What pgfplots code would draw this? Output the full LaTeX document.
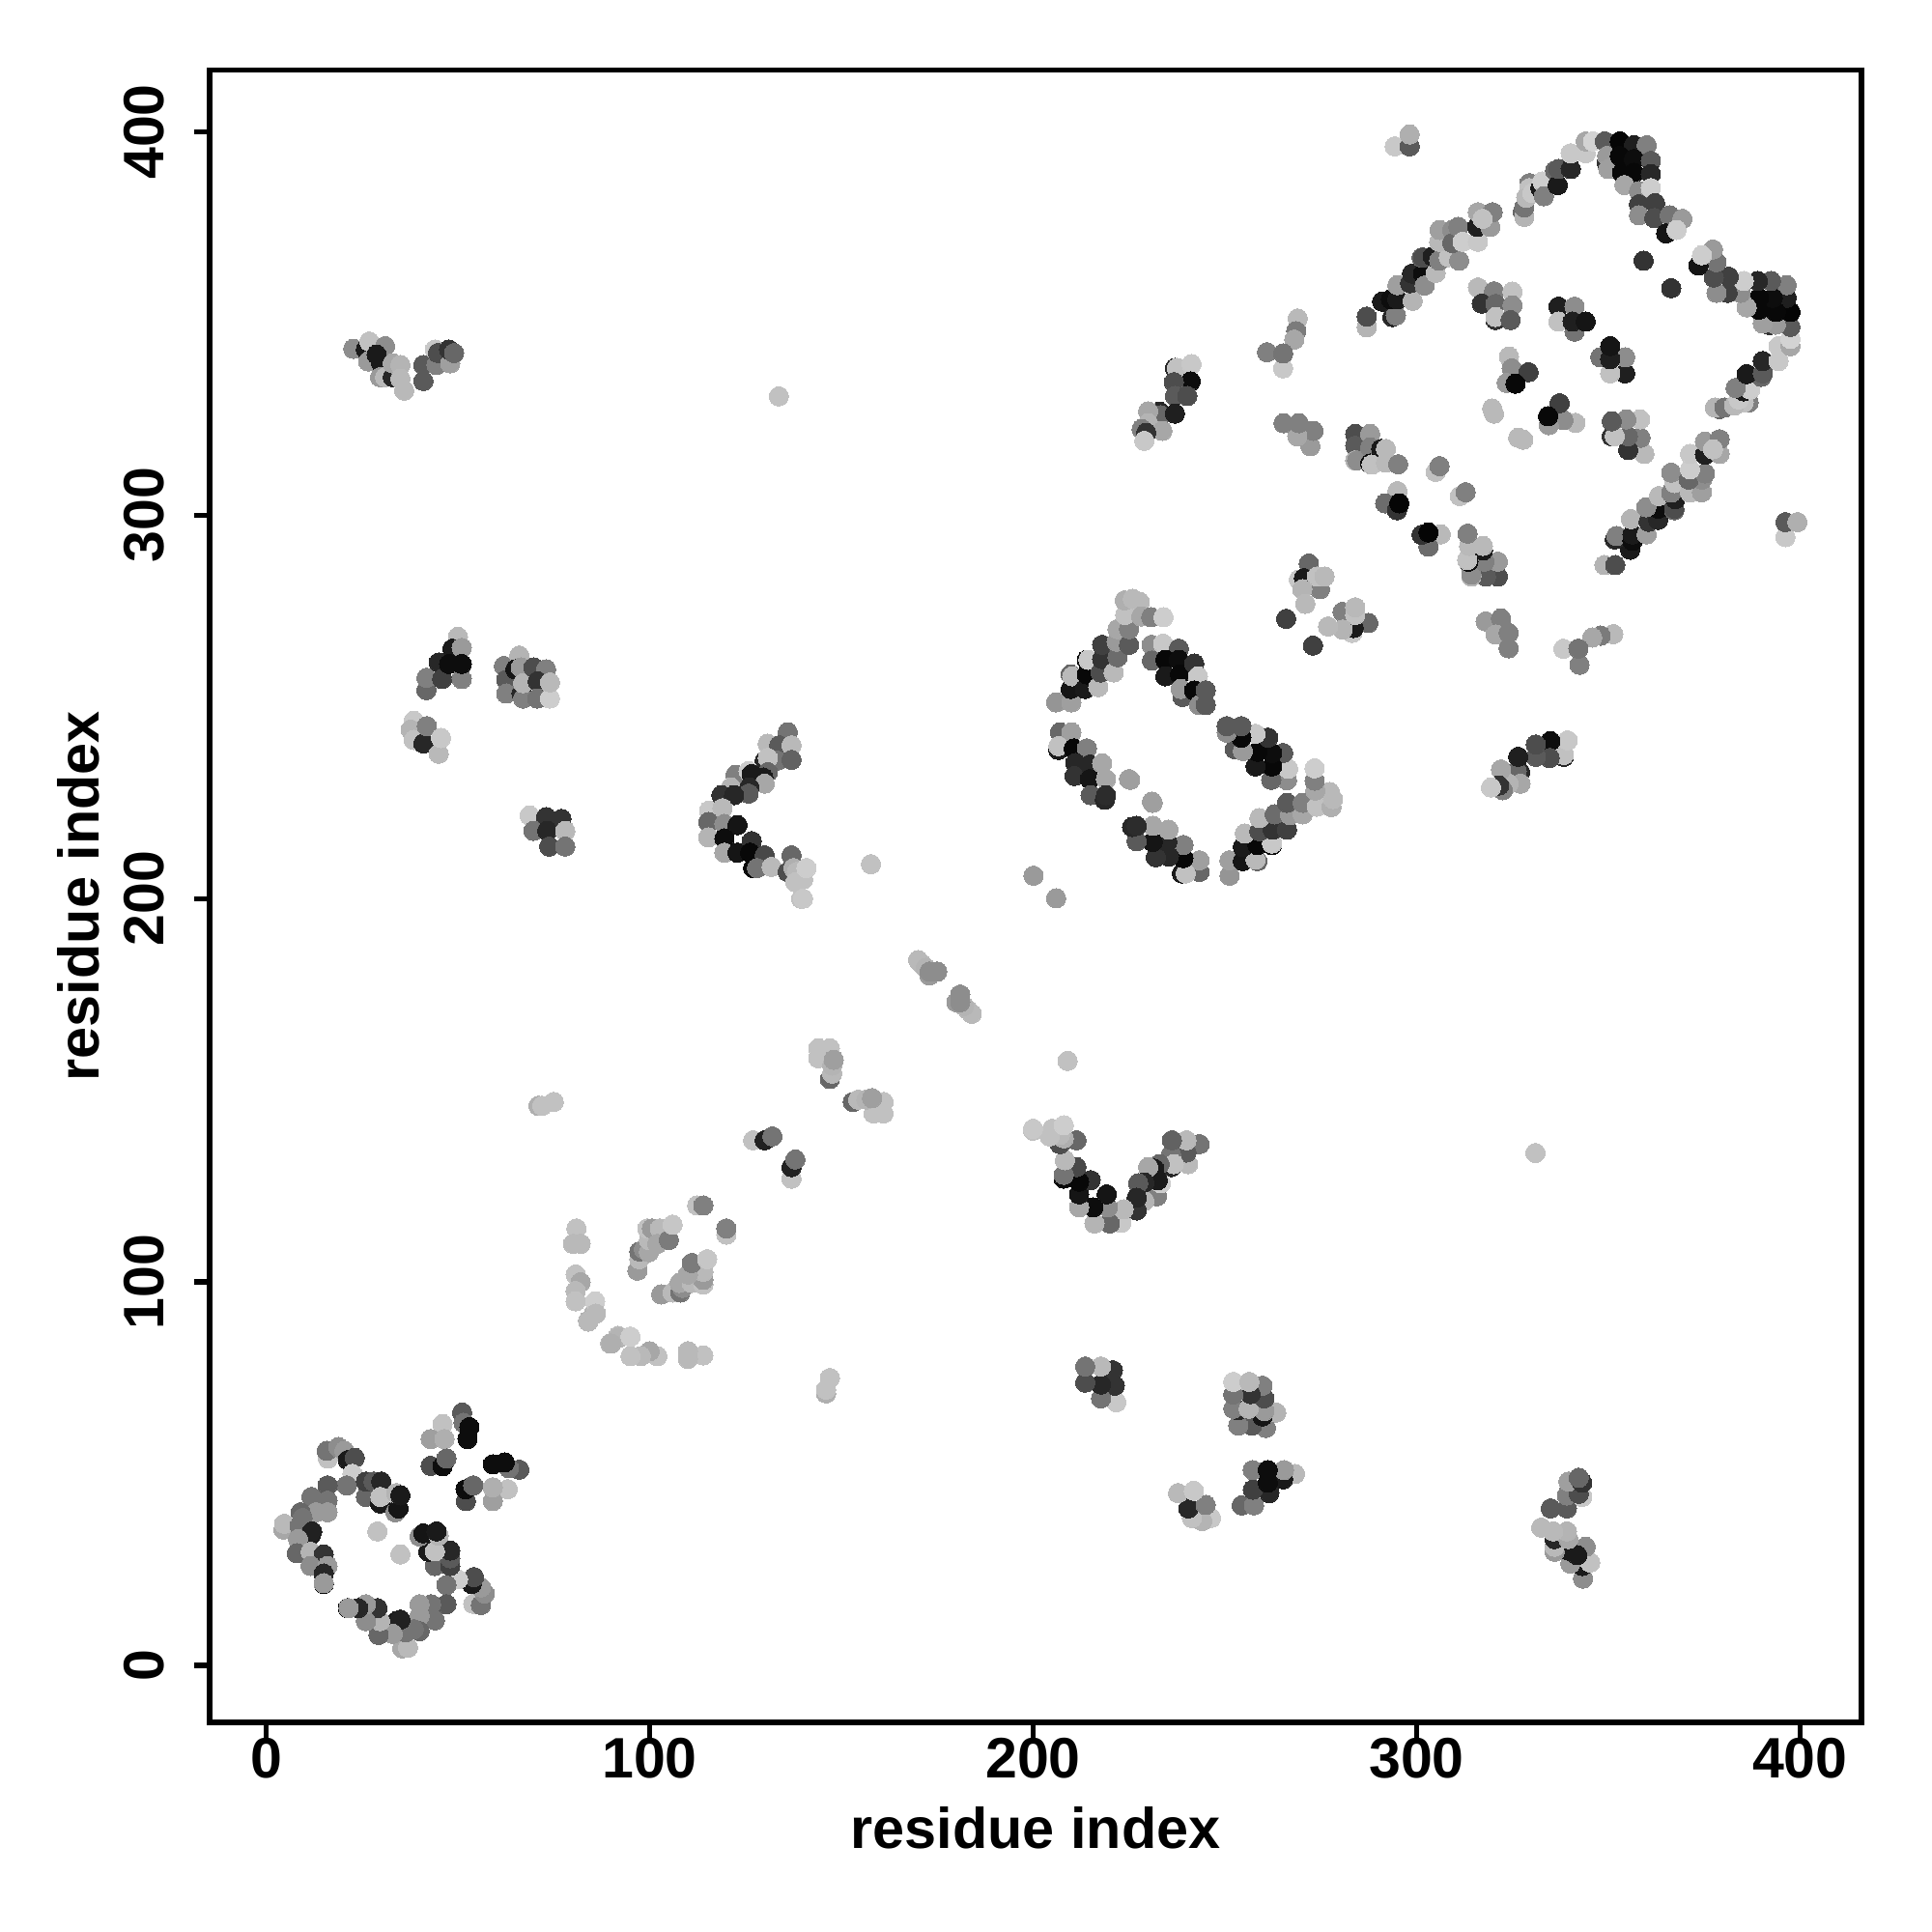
\documentclass[border=0pt]{standalone}
\usepackage{fontspec}
\setmainfont{Liberation Sans}
\usepackage{pgfplots}
\usepackage{pgfplotstable}
\pgfplotsset{compat=1.18}
\pgfplotstableread{
a b g
51.1 66.0 .35
51.5 63.3 .45
46.0 63.0 .75
42.9 59.1 .62
46.5 59.1 .68
53 62.2 .05
52.5 59.1 .05
42.9 52.1 .3
46 52 .05
47 54 .4
16.1 54 .75
15.8 56 .45
18.8 57 .55
20.4 56 .6
21.3 53.6 .1
23.1 54.2 .3
22.5 50 .8
21 47 .45
26 44 .4
26 48 .25
28 48 .35
30 48 .15
29.7 42.3 .1
29.8 44 .75
33.7 40 .55
34.5 41 .08
33.9 45 .7
35 44.4 .1
16 47 .35
11.8 44 .45
16 43 .45
13 40 .6
16 40 .6
9 40 .4
9.5 38.5 .45
4.5 35.5 .65
4.7 37 .72
8.7 36.4 .45
11.6 34 .1
12 35 .13
8.3 33 .6
8 29.3 .4
11.6 29.7 .7
15 29 .2
11.6 26 .55
16 26 .6
15 24 .15
15 21.3 .05
15 21.5 .6
29 35 .75
80.9 114 .75
80 110 .72
82 110 .72
80.7 102 .75
82 100 .65
80.7 97.7 .72
80.7 95 .75
85.5 92 .7
85.8 95 .8
84 90 .68
89.7 84 .72
91.8 86 .72
96.8 103 .6
97.3 106 .72
97.3 108 .45
98.5 108.6 .55
99.8 107.8 .65
99.8 111 .72
99.4 114 .75
100.6 114 .6
102.7 114 .72
102 110 .65
105 111 .48
106 115 .77
112.4 120 .75
114 120 .5
127 137 .75
130 137 .13
132 138 .45
144 161 .75
147 161 .75
144 158.4 .75
147 153 .4
147.6 154.4 .72
147.6 156.5 .7
148 158 .62
71 146 .68
72 146 .75
75 147 .75
170 184 .72
171 183 .72
172 182 .7
173 180 .6
173 181 .55
175 181 .55
157.7 209 .75
200.1 206 .6
133.7 331 .75
136 243.4 .45
130.8 240.4 .72
133.8 240 .35
137 240 .72
133.3 236 .45
137 236.2 .38
130 236 .15
130.8 236.7 .75
130.8 233 .4
122.4 232.3 .5
125.8 233.3 .8
126.6 232.5 .1
129.6 231.6 .1
121.2 229 .7
130 230 .65
126 229 .15
125.8 227.4 .35
118.7 227 .2
122 227 .15
115.5 223 .78
119 223.6 .72
115.3 220 .4
119.5 219.5 .55
122.9 219.2 .08
115.3 216 .7
119.5 215.7 .05
119.5 212 .65
122.9 212 .08
126.6 215 .2
126.2 212 .03
130 211.3 .28
127 208 .03
128 208 .45
131.8 208.3 .72
136 207 .3
137 211.3 .4
137.5 208 .68
138.4 207 .72
138 204.3 .75
140 205 .75
140.9 208 .8
139.5 200 .75
140 200 .78
22.7 343.4 .55
26 343.2 .1
26.9 345.3 .75
26.6 340.1 .6
31 344.1 .55
28.8 341.9 .1
30 339.6 .1
29.7 336 .6
31 336 .72
33 336 .15
33 339.6 .65
35 339.2 .7
35 335.6 .72
36 332.5 .72
41 339.2 .35
41 335 .35
44 343.2 .78
44.4 339.2 .5
44.8 342.3 .3
48 339.6 .62
47.7 343.2 .2
49 342.3 .4
50 268.3 .72
48.6 265.2 .1
51 265.4 .6
41.8 254.4 .4
41.8 257.6 .5
45 261.6 .15
45.9 257.3 .25
47.7 261.2 .05
51 257.3 .5
51 261.2 .05
62 260.7 .5
62.6 257.1 .35
62.6 253.5 .5
66 263.4 .7
65 259.8 .08
66.4 260.3 .6
66.6 253.5 .15
67 252.2 .5
67 256.2 .7
69.7 260.3 .3
73 259.8 .5
70.8 256.7 .2
70.7 252.2 .45
74 252.2 .8
74 256.4 .72
38.5 246.4 .78
37.7 244.1 .7
38.5 241.4 .75
41 240.5 .15
41.9 245 .5
45 237.8 .72
45.6 241.9 .78
68.7 221.7 .78
73 221.3 .2
77 220.8 .2
69.7 217.7 .45
73.3 217.7 .15
78 217.7 .72
73.8 213.6 .3
78 213.6 .45
206 251.2 .58
210 251.2 .62
209.8 254.7 .08
209.8 258.5 .4
210.2 258 .72
213.5 254.7 .1
214 258.5 .03
214 262.3 .05
214.4 262.3 .78
217 255.2 .72
217.6 259 .3
218 262.5 .2
218 266.2 .25
221 259 .72
222 263 .42
221.8 267 .6
222 270.3 .65
225 266.2 .35
225 270.3 .5
224 274 .75
223.9 277.8 .68
226 278.2 .72
227.8 277.4 .72
228.2 273.6 .65
230.8 273.4 .5
234 273.4 .8
230.9 266.2 .55
231 262.1 .4
233.9 266.5 .78
238 265.2 .35
234.5 262.3 .03
234.5 258 .1
238 262.3 .05
238.3 258.5 .03
242 261.3 .2
243 258 .78
239 252.6 .35
238.5 254.7 .6
242 254.3 .03
243.3 250.5 .55
245 250.5 .35
245 254.3 .35
207 243.4 .4
210 243.4 .62
206.6 238.8 .1
206.6 239.8 .75
210.6 239.2 .03
214 239.2 .5
211 235.4 .15
210.8 232 .2
214.8 235 .15
214.8 231.2 .08
218 235.3 .65
219 231.2 .65
215 227 .35
218.7 225.8 .15
219 227 .17
225 231.2 .62
231 225.3 .62
237 338.4 .15
237.5 338.4 .75
241.3 339.4 .78
241.1 334.9 .05
236.7 334.7 .3
237 331.1 .35
240.2 331.1 .3
233 327 .15
233.3 326.1 .4
237 326.5 .12
230 327.1 .65
230 324 .7
233.7 322 .65
228.3 322.5 .5
229.5 321.5 .2
229 319.4 .78
269 351.3 .72
268.6 348 .48
268.1 345.8 .65
261 342.5 .5
265.2 338.3 .78
265.2 342.2 .45
284 321.2 .3
284 318.1 .35
287.9 321.2 .6
284 314.3 .7
284.5 314.3 .55
287.9 317.7 .5
290.8 317.3 .1
292 317.3 .72
287.9 313.5 .05
288.3 313.2 .75
292 313.7 .72
295.2 313.3 .5
295 306.3 .72
291.8 303.1 .42
294.9 301.3 .2
295.5 303.1 .02
305 311.3 .75
306 312.8 .5
319.7 327.8 .72
320.2 326.5 .72
318 272.3 .6
322 273.1 .5
320.6 268.9 .65
324 269.3 .5
324 265.3 .5
271.9 287.4 .4
269.3 283.2 .78
270.6 283.6 .1
274.8 280.7 .5
274 284 .75
276 284 .72
270.2 280.7 .7
271 276.9 .72
266 273 .25
287 349 .7
287 351.8 .3
291 355.7 .1
293.7 351.7 .15
294.6 352.1 .5
293.3 356.3 .05
295 356.3 .1
295 360 .62
299 355.9 .7
298.3 360.5 .2
298.8 363 .15
301.7 363 .05
302.1 359.9 .55
305 363.2 .72
301.3 367.2 .4
301.7 367.2 .3
304.2 367.5 .12
305.9 366.4 .5
308.4 367.3 .75
311.1 366.4 .55
305.9 371.3 .72
306 374.4 .62
309.3 374.4 .55
309.3 371 .4
310.9 375.2 .5
312 371.3 .8
316 371.3 .78
315.8 375.2 .12
319.2 375.2 .6
316 379 .65
319.8 379 .5
317.2 377.3 .75
327.7 379 .4
328.1 377.8 .7
328.1 380.3 .45
329.4 386.6 .5
329.4 385.3 .75
328.6 382.8 .72
330.2 384 .78
332.3 385.3 .1
332.8 387 .8
333.2 383.2 .5
336.1 389.9 .4
336.8 386.1 .1
337 390.3 .35
340.2 390.3 .15
340.2 394.4 .78
344.1 394.4 .78
344.1 397.5 .65
346 397.5 .82
349.1 397.5 .35
349.6 392 .2
349.7 393.7 .6
350 390.3 .62
353 397.5 .02
356.7 396.5 .12
360 396.5 .5
353 393.7 .03
353.6 389.3 .03
356.7 392.9 .05
356.7 389.3 .03
361.1 392.4 .35
361.1 389 .15
354.2 386.1 .65
358 384.5 .55
361.1 385.3 .8
358 381.1 .25
362.2 381.4 .25
358 378.2 .55
362 377.5 .3
366 378.2 .45
369.3 377.3 .6
365.1 373.5 .08
367.8 374.4 .8
359.2 366.4 .2
316 359.4 .72
320.2 358.4 .5
325 358.3 .75
317 355.2 .2
320.6 355.1 .4
325 354.7 .55
320.6 350.9 .2
320.6 351.7 .75
324.5 350.9 .35
337 354.4 .12
341.2 354.4 .55
337 350.5 .75
341.2 347.9 .45
340.7 350.5 .12
344.1 350.5 .08
324.1 341.4 .72
324.8 338.3 .55
329.2 337.3 .25
323.5 334.5 .6
325.8 334.3 .03
294.3 396.2 .78
298.2 396.2 .35
298.2 399.3 .68
}\contacts
\begin{document}
\begin{tikzpicture}
\useasboundingbox (-21.68mm,-21.7mm) rectangle (178.32mm,178.3mm);
\begin{axis}[
  scale only axis, width=171.05mm, height=171.05mm,
  xmin=-14.8, xmax=416.1, ymin=-14.8, ymax=416.1,
  axis line style={line width=1.6pt},
  every tick/.style={black,line width=1.6pt},
  tick align=outside, major tick length=1.6mm,
  xtick={0,100,200,300,400}, ytick={0,100,200,300,400},
  xtick pos=left, ytick pos=left,
  /pgf/number format/assume math mode=true,
  ticklabel style={font=\fontsize{16.8}{20}\selectfont\bfseries},
  xticklabel style={anchor=north,yshift=1.2mm},
  yticklabel style={rotate=90,anchor=south,yshift=1.8mm},
  label style={font=\fontsize{16.9}{20}\selectfont\bfseries},
  xlabel={residue index}, ylabel={residue index},
  xlabel style={at={(axis description cs:0.5,0)},anchor=center,yshift=-10.9mm},
  ylabel style={at={(axis description cs:0,0.5)},anchor=center,xshift=0mm,yshift=13.6mm},
  colormap={mygray}{gray(0cm)=(0); gray(1cm)=(1)},
  point meta min=0, point meta max=1,
  clip=false,
]
\addplot[scatter, only marks, point meta=explicit, mark=*, mark size=2.85pt, mark options={line width=0pt},
  scatter/use mapped color={draw=mapped color,fill=mapped color}]
  table[x=a,y=b,meta=g] {\contacts};
\addplot[scatter, only marks, point meta=explicit, mark=*, mark size=2.85pt, mark options={line width=0pt},
  scatter/use mapped color={draw=mapped color,fill=mapped color}]
  table[x=b,y=a,meta=g] {\contacts};
\end{axis}
\end{tikzpicture}
\end{document}
